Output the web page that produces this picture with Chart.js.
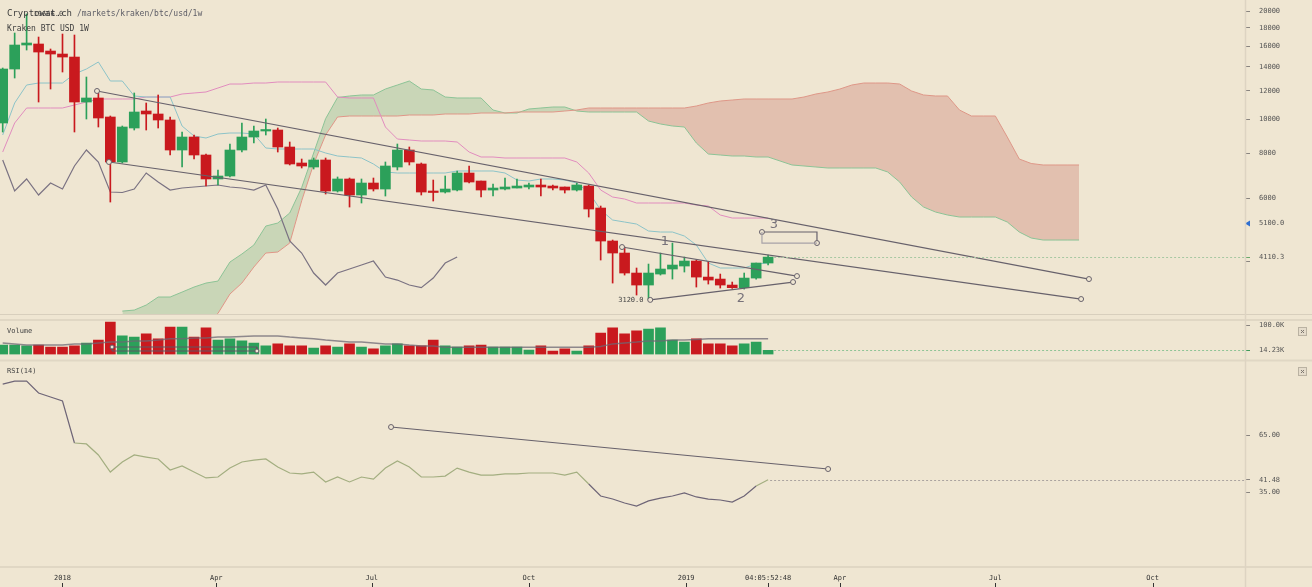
<!DOCTYPE html>
<html>
<head>
<meta charset="utf-8">
<title>Kraken BTC USD 1W</title>
<script src="https://cdn.jsdelivr.net/npm/chart.js@4.4.1/dist/chart.umd.min.js"></script>
<style>
  html, body { margin: 0; padding: 0; background: #efe6d2; }
  #wrap { position: relative; width: 1312px; height: 587px; overflow: hidden; }
  .pane { position: absolute; left: 0; top: 0; width: 1312px; height: 587px; }
</style>
</head>
<body>
<div id="wrap">
  <div class="pane"><canvas id="price"></canvas></div>
  <div class="pane"><canvas id="volume"></canvas></div>
  <div class="pane"><canvas id="rsi"></canvas></div>
</div>
<script>
// weekly candles, x in days from 1 Jan 2018; first visible week is 5 weeks before
const firstWeek = -5;
const opens = [9746, 13798, 16104, 16209, 15492, 15196, 14904, 11156, 11449, 10130,
  7582, 9437, 10529, 10328, 9936, 8190, 8905, 7931, 6796, 6928,
  8190, 8905, 9256, 9316, 8350, 7533, 7341, 7680, 6289, 6796,
  6130, 6622, 6371, 7341, 8190, 7485, 6289, 6249, 6330, 7063,
  6708, 6330, 6371, 6412, 6454, 6537, 6495, 6454, 6330, 6495,
  5637, 4558, 4219, 3709, 3433, 3685, 3806, 3880, 4007, 3614,
  3568, 3433, 3375, 3591, 3956];
const highs = [13887, 17396, 19666, 16953, 15695, 17284, 17173, 13104, 11824, 10195,
  9559, 11824, 11085, 11672, 10130, 9197, 9021, 7982, 7201, 8513,
  9746, 9559, 10000, 9437, 8623, 7729, 7779, 7779, 6884, 6839,
  6796, 6839, 7582, 8513, 8350, 7533, 6751, 6928, 7155, 7389,
  6708, 6579, 6839, 6796, 6622, 6796, 6537, 6454, 6622, 6537,
  5710, 4587, 4385, 3831, 3930, 4219, 4499, 4111, 4033, 3981,
  3685, 3500, 3709, 3956, 4165];
const lows = [9197, 13021, 15592, 11156, 12130, 13533, 9197, 10000, 9498, 5859,
  7533, 9316, 9316, 9437, 7931, 7341, 7729, 6495, 6537, 6884,
  8085, 8568, 9021, 8085, 7437, 7294, 7247, 6169, 6249, 5673,
  5822, 6289, 6090, 7201, 7437, 6130, 5897, 6209, 6289, 6622,
  6051, 6090, 6330, 6412, 6371, 6090, 6330, 6209, 6289, 5320,
  4033, 3477, 3661, 3219, 3120, 3661, 3568, 3733, 3389, 3455,
  3367, 3360, 3345, 3568, 3905];
const closes = [13798, 16104, 16313, 15392, 15196, 14904, 11156, 11449, 10065, 7582,
  9498, 10461, 10328, 9936, 8190, 8905, 7931, 6796, 6928, 8190,
  8905, 9256, 9316, 8350, 7485, 7389, 7680, 6289, 6796, 6130,
  6622, 6371, 7389, 8190, 7582, 6249, 6230, 6371, 7063, 6665,
  6330, 6412, 6454, 6495, 6537, 6454, 6412, 6330, 6537, 5601,
  4558, 4219, 3709, 3433, 3709, 3806, 3905, 4007, 3614, 3545,
  3433, 3375, 3591, 3956, 4110.3];
// volume in thousands
const volumes = [32, 32, 29, 32, 25, 25, 29, 39, 49, 110,
  63, 59, 70, 53, 93, 93, 59, 90, 49, 53,
  46, 39, 29, 36, 29, 29, 22, 29, 25, 36,
  25, 19, 29, 36, 29, 29, 49, 29, 25, 29,
  32, 25, 25, 25, 15, 29, 12, 19, 12, 29,
  73, 90, 70, 80, 86, 90, 49, 42, 53, 36,
  36, 29, 36, 42, 14.23];
const volumeMa = [39, 36, 32, 32, 32, 32, 36, 36, 39, 42,
  42, 46, 46, 49, 53, 53, 56, 56, 59, 59,
  61, 63, 63, 63, 59, 56, 53, 49, 46, 42,
  42, 39, 36, 36, 32, 29, 29, 25, 25, 25,
  25, 25, 25, 25, 25, 25, 25, 25, 25, 25,
  27, 36, 39, 42, 46, 46, 49, 49, 51, 53,
  53, 53, 53, 53, 53];
const tenkan = [9021, 11085, 12446, 12608, 12608, 12608, 13361, 13798, 14434, 12772,
  12772, 11597, 11522, 11522, 11522, 9559, 8963, 8848, 9079, 9138,
  9138, 9079, 8297, 8243, 8243, 8243, 8243, 8034, 7880, 7829,
  7779, 7485, 7109, 7063, 7063, 7063, 7063, 7063, 7155, 7155,
  7155, 7155, 7063, 6751, 6708, 6796, 6796, 6751, 6622, 6249,
  5565, 5218, 5151, 5085, 4862, 4830, 4830, 4707, 4442, 3956,
  3831, 3831, 3831, 3930, 3956];
const kijun = [8085, 9746, 10734, 10734, 10734, 10734, 10943, 11156, 11375, 11375,
  11375, 11375, 11522, 11522, 11522, 11748, 11824, 11900, 12209, 12527,
  12527, 12608, 12608, 12690, 12690, 12690, 12690, 12690, 11522, 11449,
  11449, 11449, 9498, 8791, 8735, 8679, 8679, 8679, 8623, 8085,
  7829, 7829, 7779, 7779, 7779, 7779, 7779, 7779, 7582, 7063,
  6330, 6051, 5974, 5822, 5822, 5822, 5822, 5822, 5747, 5710,
  5389, 5285, 5285, 5285, 5285];
// cloud is plotted 26 weeks ahead, starting at week 5
const cloudFirstWeek = 5;
const senkouA = [2903, 2922, 3018, 3178, 3178, 3281, 3389, 3477, 3522, 3981,
  4192, 4442, 5019, 5118, 5459, 6433, 8034, 10019, 11485, 11597,
  11672, 11672, 12130, 12446, 12772, 12130, 12054, 11522, 11449, 11449,
  11449, 10597, 10394, 10394, 10665, 10734, 10803, 10803, 10529, 10461,
  10461, 10461, 10461, 10461, 9872, 9684, 9559, 9498, 8568, 7982,
  7931, 7880, 7880, 7829, 7829, 7631, 7437, 7389, 7341, 7294,
  7294, 7294, 7294, 7294, 7109, 6665, 6051, 5673, 5494, 5389,
  5320, 5320, 5320, 5320, 5151, 4830, 4647, 4587, 4587, 4587,
  4587];
const senkouB = [2400, 2420, 2450, 2480, 2500, 2530, 2580, 2680, 2860, 3240,
  3477, 3855, 4219, 4246, 4499, 5906, 7485, 9021, 10130, 10195,
  10195, 10195, 10195, 10195, 10261, 10261, 10261, 10328, 10328, 10328,
  10394, 10394, 10394, 10461, 10461, 10461, 10461, 10529, 10597, 10734,
  10734, 10734, 10734, 10734, 10734, 10734, 10734, 10734, 10873, 11085,
  11229, 11301, 11375, 11375, 11375, 11375, 11375, 11522, 11748, 11900,
  12130, 12446, 12608, 12608, 12608, 12527, 11977, 11672, 11597, 11597,
  10597, 10195, 10195, 10195, 8905, 7729, 7509, 7437, 7437, 7437,
  7437];
const rsi = [91.8, 93.4, 93.4, 87.1, 85.0, 82.9, 60.8, 60.3, 54.5, 45.5,
  50.8, 54.5, 53.4, 52.4, 46.6, 48.7, 45.5, 42.4, 42.9, 47.6,
  50.8, 51.8, 52.4, 48.2, 45.0, 44.5, 45.5, 40.3, 42.9, 40.3,
  42.9, 41.8, 47.6, 51.3, 48.2, 42.9, 42.9, 43.4, 47.6, 45.5,
  43.9, 43.9, 44.5, 44.5, 45.0, 45.0, 45.0, 43.9, 45.5, 39.2,
  32.9, 31.3, 29.2, 27.6, 30.3, 31.8, 32.9, 34.5, 32.4, 31.3,
  30.8, 29.7, 32.9, 38.2, 41.48];

const priceTicks = [4000, 4110.3, 5100, 6000, 8000, 10000, 12000, 14000, 16000, 18000, 20000];
const volumeTicks = [14.23, 100];
const rsiTicks = [35, 41.48, 65];
const timeTicks = [0, 90, 181, 273, 365, 413, 455, 546, 638];
const timeLabels = ['2018', 'Apr', 'Jul', 'Oct', '2019', '04:05:52:48', 'Apr', 'Jul', 'Oct'];

// hand drawn lines, [day, value]
const channelTop = [[20.2, 11977], [600.8, 3568]];
const channelBottom = [[27.2, 7582], [596.2, 3137]];
const wedgeTop = [[327.5, 4385], [429.9, 3637]];
const wedgeBottom = [[344, 3120], [427.6, 3500]];
const rangeDark = [[409.4, 4830], [441.6, 4830], [441.6, 4499]];
const rangeLight = [[409.4, 4830], [409.4, 4499], [441.6, 4499]];
const waveLabels = [['1', 352.6, 4528], ['2', 397.1, 3137], ['3', 416.4, 5052]];
const volumeBox = [[29, 25.4], [113.8, 25.4], [113.8, 11.9], [29, 11.9], [29, 25.4]];
const rsiLine = [[192.3, 69.2], [448.1, 47.1]];

const BG = '#efe6d2';
const GREEN = '#2ca05a';
const RED = '#c9191e';
const LINE = '#67616b';
const X_MIN = -36.58, X_MAX = 692.13;
const axisFont = { family: 'DejaVu Sans Mono', size: 7 };

const weekDay = i => (firstWeek + i) * 7;
const series = (arr, start) => arr.map((v, i) => ({ x: (start + i) * 7, y: v }));
const pairs = arr => arr.map(([x, y]) => ({ x, y }));
const candleColors = opens.map((o, i) => closes[i] >= o ? GREEN : RED);
const fitRight = s => { s.width = 67; s.paddingTop = 0; s.paddingBottom = 0; };
const last = closes.length - 1;

function drawnLine(points, color, radius) {
  return {
    type: 'line', data: pairs(points), borderColor: color, borderWidth: 1.2,
    pointRadius: radius, pointBackgroundColor: BG, pointBorderColor: color,
    pointBorderWidth: 1, order: 1
  };
}

function closeBox(ctx, x, y) {
  ctx.fillStyle = '#e5dccb';
  ctx.fillRect(x, y, 9, 9);
  ctx.strokeStyle = '#bab2a2';
  ctx.lineWidth = 1;
  ctx.strokeRect(x + 0.5, y + 0.5, 8, 8);
  ctx.strokeStyle = '#7d7770';
  ctx.beginPath();
  ctx.moveTo(x + 3, y + 3); ctx.lineTo(x + 6, y + 6);
  ctx.moveTo(x + 6, y + 3); ctx.lineTo(x + 3, y + 6);
  ctx.stroke();
}

function dotted(ctx, x0, x1, y, color) {
  ctx.save();
  ctx.strokeStyle = color;
  ctx.lineWidth = 1;
  ctx.setLineDash([2, 2]);
  ctx.beginPath();
  ctx.moveTo(x0, Math.round(y) + 0.5);
  ctx.lineTo(x1, Math.round(y) + 0.5);
  ctx.stroke();
  ctx.restore();
}

const priceOverlay = {
  id: 'priceOverlay',
  afterDatasetsDraw(chart) {
    const { ctx, chartArea: a, scales: { x, y } } = chart;
    dotted(ctx, x.getPixelForValue(weekDay(last)) + 6, a.right, y.getPixelForValue(closes[last]), '#a7c8a2');

    ctx.save();
    ctx.fillStyle = '#77727a';
    ctx.font = '13px "DejaVu Sans"';
    ctx.textAlign = 'center';
    ctx.textBaseline = 'middle';
    waveLabels.forEach(([t, d, p]) => ctx.fillText(t, x.getPixelForValue(d), y.getPixelForValue(p)));

    // highest high / lowest low markers
    const hi = highs.indexOf(Math.max(...highs));
    const lo = lows.indexOf(Math.min(...lows));
    ctx.font = '7px "DejaVu Sans Mono"';
    ctx.fillStyle = '#444';
    ctx.textAlign = 'left';
    ctx.fillText(highs[hi].toFixed(1), x.getPixelForValue(weekDay(hi)) + 7, y.getPixelForValue(highs[hi]));
    ctx.textAlign = 'right';
    ctx.fillText(lows[lo].toFixed(1), x.getPixelForValue(weekDay(lo)) - 5, y.getPixelForValue(lows[lo]));
    ctx.restore();
  },
  afterDraw(chart) {
    const { ctx, chartArea: a, scales: { y } } = chart;
    ctx.save();
    // alert arrow on the axis
    const ay = y.getPixelForValue(5100);
    ctx.fillStyle = '#2f6fd0';
    ctx.beginPath();
    ctx.moveTo(a.right, ay); ctx.lineTo(a.right + 5, ay - 3); ctx.lineTo(a.right + 5, ay + 3);
    ctx.closePath();
    ctx.fill();

    ctx.textBaseline = 'middle';
    ctx.textAlign = 'left';
    ctx.fillStyle = '#3d3d3d';
    ctx.font = '9px "DejaVu Sans Mono"';
    ctx.fillText('Cryptowat.ch', 7, 14);
    ctx.fillStyle = '#5d5d66';
    ctx.font = '8px "DejaVu Sans Mono"';
    ctx.fillText('/markets/kraken/btc/usd/1w', 77, 14);
    ctx.fillStyle = '#3d3d3d';
    ctx.fillText('Kraken BTC USD 1W', 7, 29);
    ctx.restore();
  }
};

new Chart(document.getElementById('price'), {
  type: 'bar',
  data: {
    datasets: [
      { type: 'line', label: 'Senkou A', data: series(senkouA, cloudFirstWeek), borderColor: '#8cc396',
        borderWidth: 1, pointRadius: 0, fill: { target: '+1', above: '#c9d6b7', below: '#e2c0af' }, order: 20 },
      { type: 'line', label: 'Senkou B', data: series(senkouB, cloudFirstWeek), borderColor: '#de9687',
        borderWidth: 1, pointRadius: 0, fill: false, order: 19 },
      { type: 'line', label: 'Tenkan', data: series(tenkan, firstWeek), borderColor: '#8cc3c8',
        borderWidth: 1, pointRadius: 0, order: 15 },
      { type: 'line', label: 'Kijun', data: series(kijun, firstWeek), borderColor: '#e18cbe',
        borderWidth: 1, pointRadius: 0, order: 15 },
      { type: 'line', label: 'Chikou', data: series(closes.slice(26), firstWeek), borderColor: '#7a7282',
        borderWidth: 1.2, pointRadius: 0, order: 14 },
      { type: 'bar', label: 'Wicks', data: highs.map((h, i) => ({ x: weekDay(i), y: [lows[i], h] })),
        backgroundColor: candleColors, barThickness: 1, grouped: false, order: 6 },
      { type: 'bar', label: 'Bodies', data: opens.map((o, i) => ({ x: weekDay(i), y: [o, closes[i]] })),
        backgroundColor: candleColors, barThickness: 10, minBarLength: 1.5, grouped: false, order: 5 },
      drawnLine(channelTop, LINE, 2.5),
      drawnLine(channelBottom, LINE, 2.5),
      drawnLine(wedgeTop, LINE, 2.5),
      drawnLine(wedgeBottom, LINE, 2.5),
      drawnLine(rangeLight, '#a8a2a8', 0),
      drawnLine(rangeDark, LINE, [2.5, 0, 2.5])
    ]
  },
  options: {
    responsive: true,
    maintainAspectRatio: false,
    animation: false,
    layout: { autoPadding: false, padding: { top: 0, bottom: 273, left: 0, right: 0 } },
    plugins: { legend: { display: false }, tooltip: { enabled: false } },
    scales: {
      x: { type: 'linear', min: X_MIN, max: X_MAX, offset: false, display: false },
      y: {
        type: 'logarithmic', position: 'right', min: 2849, max: 21518,
        afterBuildTicks: s => { s.ticks = priceTicks.map(v => ({ value: v })); },
        afterFit: fitRight,
        ticks: {
          autoSkip: false, padding: 9, font: axisFont, color: '#555',
          callback: v => v === 4000 ? '' : (v === 4110.3 || v === 5100) ? v.toFixed(1) : String(v)
        },
        grid: {
          drawOnChartArea: false, tickLength: 5,
          tickColor: c => c.tick && c.tick.value === 4110.3 ? '#6aa86a' : '#8a8580'
        },
        border: { display: false }
      }
    }
  },
  plugins: [priceOverlay]
});

const volumeOverlay = {
  id: 'volumeOverlay',
  afterDraw(chart) {
    const { ctx, chartArea: a, scales: { x, y } } = chart;
    dotted(ctx, x.getPixelForValue(weekDay(last)) + 6, a.right, y.getPixelForValue(volumes[last]), '#8fc496');
    ctx.save();
    ctx.fillStyle = '#444';
    ctx.font = '7px "DejaVu Sans Mono"';
    ctx.textBaseline = 'middle';
    ctx.fillText('Volume', 7, 331);
    closeBox(ctx, 1298, 327);
    ctx.restore();
  }
};

new Chart(document.getElementById('volume'), {
  type: 'bar',
  data: {
    datasets: [
      { type: 'bar', label: 'Volume', data: volumes.map((v, i) => ({ x: weekDay(i), y: v })),
        backgroundColor: candleColors, barThickness: 10, grouped: false, order: 5 },
      { type: 'line', label: 'MA', data: series(volumeMa, firstWeek), borderColor: 'rgba(110,104,116,0.75)',
        borderWidth: 1.5, pointRadius: 0, order: 2 },
      { type: 'line', data: pairs(volumeBox), borderColor: '#5e5864', borderWidth: 1,
        pointRadius: [2, 0, 2, 0, 0], pointBackgroundColor: BG, pointBorderColor: '#5e5864', order: 1 }
    ]
  },
  options: {
    responsive: true,
    maintainAspectRatio: false,
    animation: false,
    layout: { autoPadding: false, padding: { top: 321, bottom: 232.5, left: 0, right: 0 } },
    plugins: { legend: { display: false }, tooltip: { enabled: false } },
    scales: {
      x: { type: 'linear', min: X_MIN, max: X_MAX, offset: false, display: false },
      y: {
        type: 'linear', position: 'right', min: 0, max: 113.56,
        afterBuildTicks: s => { s.ticks = volumeTicks.map(v => ({ value: v })); },
        afterFit: fitRight,
        ticks: {
          autoSkip: false, padding: 9, font: axisFont, color: '#555',
          callback: v => v === 100 ? '100.0K' : v.toFixed(2) + 'K'
        },
        grid: {
          drawOnChartArea: false, tickLength: 5,
          tickColor: c => c.tick && c.tick.value === 14.23 ? '#3f9a5a' : '#8a8580'
        },
        border: { display: false }
      }
    }
  },
  plugins: [volumeOverlay]
});

const rsiOverlay = {
  id: 'rsiOverlay',
  afterDraw(chart) {
    const { ctx, chartArea: a, scales: { x, y } } = chart;
    dotted(ctx, x.getPixelForValue(weekDay(last)) + 2, a.right, y.getPixelForValue(rsi[last]), '#aaa39f');
    ctx.save();
    ctx.fillStyle = '#444';
    ctx.font = '7px "DejaVu Sans Mono"';
    ctx.textBaseline = 'middle';
    ctx.fillText('RSI(14)', 7, 371.5);
    closeBox(ctx, 1298, 367);

    // panel separators and axis lines
    ctx.strokeStyle = '#d8cfbd';
    ctx.lineWidth = 1;
    ctx.beginPath();
    ctx.moveTo(0, 314.5); ctx.lineTo(1312, 314.5);
    ctx.stroke();
    ctx.strokeStyle = '#e0d7c4';
    ctx.lineWidth = 2;
    ctx.beginPath();
    ctx.moveTo(0, 320); ctx.lineTo(1312, 320);
    ctx.moveTo(0, 360.5); ctx.lineTo(1312, 360.5);
    ctx.moveTo(0, 567); ctx.lineTo(1312, 567);
    ctx.stroke();
    ctx.strokeStyle = '#ddd4c2';
    ctx.lineWidth = 1.5;
    ctx.beginPath();
    ctx.moveTo(a.right + 0.5, 0); ctx.lineTo(a.right + 0.5, 587);
    ctx.stroke();

    // time tick marks at the bottom edge
    ctx.strokeStyle = '#333';
    ctx.lineWidth = 1;
    ctx.beginPath();
    timeTicks.forEach(d => {
      const px = Math.round(x.getPixelForValue(d)) + 0.5;
      ctx.moveTo(px, 583); ctx.lineTo(px, 587);
    });
    ctx.stroke();
    ctx.restore();
  }
};

new Chart(document.getElementById('rsi'), {
  type: 'line',
  data: {
    datasets: [
      { label: 'RSI', data: series(rsi, firstWeek), borderWidth: 1.2, pointRadius: 0, borderColor: '#a3ae80',
        segment: {
          borderColor: c => {
            const m = (c.p0.parsed.y + c.p1.parsed.y) / 2;
            return m >= 38 && m <= 62 ? '#a3ae80' : '#6e6577';
          }
        }, order: 2 },
      drawnLine(rsiLine, LINE, 2.5)
    ]
  },
  options: {
    responsive: true,
    maintainAspectRatio: false,
    animation: false,
    layout: { autoPadding: false, padding: { top: 361, bottom: 0, left: 0, right: 0 } },
    plugins: { legend: { display: false }, tooltip: { enabled: false } },
    scales: {
      x: {
        type: 'linear', min: X_MIN, max: X_MAX, offset: false, position: 'bottom',
        afterBuildTicks: s => { s.ticks = timeTicks.map(v => ({ value: v })); },
        afterFit: s => { s.height = 20; s.paddingLeft = 0; s.paddingRight = 0; },
        ticks: {
          autoSkip: false, maxRotation: 0, padding: 7, font: axisFont, color: '#333',
          callback: v => timeLabels[timeTicks.indexOf(v)]
        },
        grid: { display: false, drawTicks: false },
        border: { display: false }
      },
      y: {
        type: 'linear', position: 'right', min: -4.47, max: 103.95,
        afterBuildTicks: s => { s.ticks = rsiTicks.map(v => ({ value: v })); },
        afterFit: fitRight,
        ticks: { autoSkip: false, padding: 9, font: axisFont, color: '#555', callback: v => v.toFixed(2) },
        grid: { drawOnChartArea: false, tickLength: 5, tickColor: '#8a8580' },
        border: { display: false }
      }
    }
  },
  plugins: [rsiOverlay]
});
</script>
</body>
</html>
